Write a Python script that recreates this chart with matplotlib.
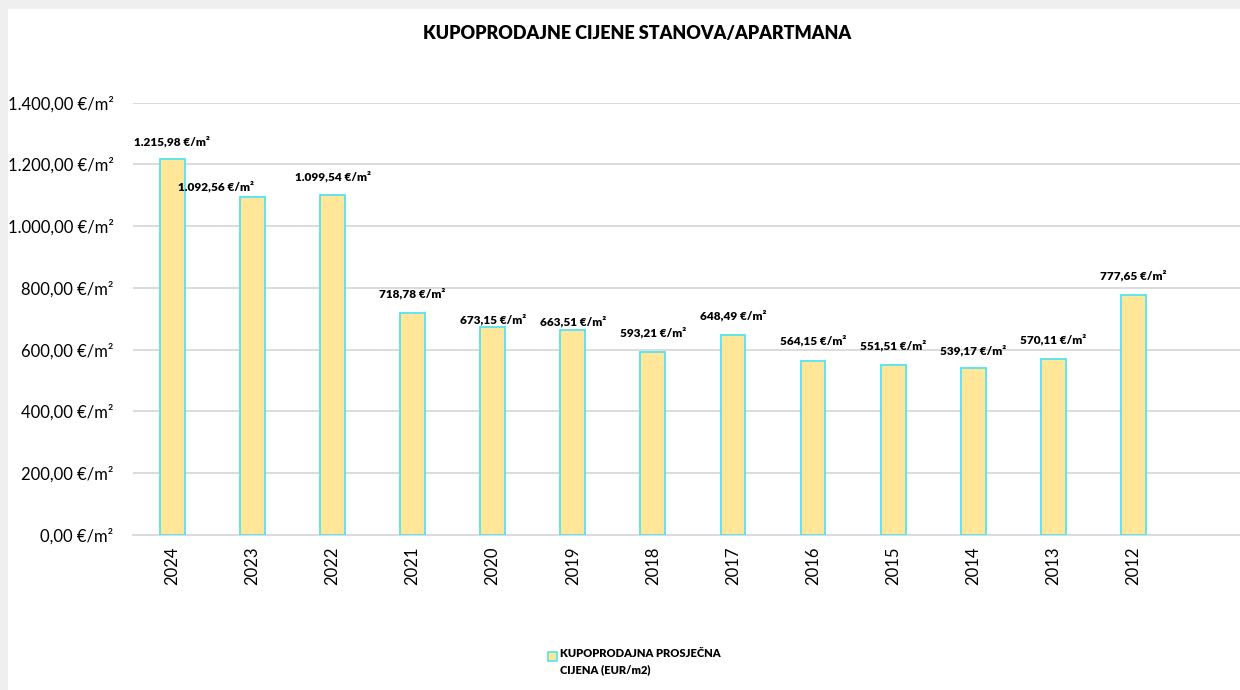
import matplotlib
matplotlib.use("Agg")
import matplotlib.pyplot as plt
from matplotlib.patches import Rectangle
from matplotlib.ticker import FuncFormatter

years = ["2024", "2023", "2022", "2021", "2020", "2019", "2018", "2017",
         "2016", "2015", "2014", "2013", "2012"]
prices = [1215.98, 1092.56, 1099.54, 718.78, 673.15, 663.51, 593.21, 648.49,
          564.15, 551.51, 539.17, 570.11, 777.65]
title = "KUPOPRODAJNE CIJENE STANOVA/APARTMANA"
legend_label = "KUPOPRODAJNA PROSJEČNA\nCIJENA (EUR/m2)"

# label offsets (pixels) mimicking Excel placement
label_dx = [0, -36, 0, 0, 0, 0, 0, 0, 0, 0, 0, 0, 0]
label_dy = [18, 11, 19, 19, 7, 8, 19, 19, 20, 19, 18, 19, 19]

def fmt_eur(v):
    s = f"{v:,.2f}"
    return s.replace(",", "X").replace(".", ",").replace("X", ".")

plt.rcParams['font.family'] = ['Lato', 'DejaVu Sans']

fig = plt.figure(figsize=(12.4, 6.9), dpi=100)
fig.patch.set_facecolor("white")
# screenshot frame
fig.patches.append(Rectangle((0, 1 - 9/690), 1, 9/690, transform=fig.transFigure,
                             facecolor="#efefef", edgecolor="none", zorder=0))
fig.patches.append(Rectangle((0, 0), 8/1240, 1, transform=fig.transFigure,
                             facecolor="#efefef", edgecolor="none", zorder=0))

ax = fig.add_axes([133/1240, 1 - 535/690, 1 - 133/1240, (535 - 102.5)/690])
x = list(range(len(years)))
ax.bar(x, prices, width=0.31, color="#FFE699", edgecolor="#55E3EE", linewidth=1.3, zorder=3)
ax.set_xlim(-0.49, 13.33)
ax.set_ylim(0, 1400)
ax.set_yticks(range(0, 1401, 200))
ax.yaxis.set_major_formatter(FuncFormatter(lambda v, p: f"{fmt_eur(v)} €/m²"))
ax.set_xticks(x)
ax.set_xticklabels(years, rotation=90)
ax.tick_params(axis='both', length=0, labelsize=12, colors="#000000")
ax.tick_params(axis='y', pad=14)
ax.tick_params(axis='x', pad=8)
ax.grid(axis='y', color="#d9d9d9", linewidth=1.3, zorder=0)
ax.set_axisbelow(True)
for s in ["top", "right", "left"]:
    ax.spines[s].set_visible(False)
ax.spines["bottom"].set_color("#d9d9d9")
ax.spines["bottom"].set_linewidth(1.3)

for xi, v, dx, dy in zip(x, prices, label_dx, label_dy):
    ax.annotate(f"{fmt_eur(v)} €/m²", (xi, v), xytext=(dx, dy), textcoords="offset pixels",
                ha="center", va="center", fontsize=8.5, fontweight="heavy", color="#000000")

fig.text(637/1240, 1 - 33/690, title, ha="center", va="center",
         fontsize=13, fontweight="heavy", color="#000000")

# legend
fig.patches.append(Rectangle((548/1240, 1 - 661/690), 9/1240, 9/690, transform=fig.transFigure,
                             facecolor="#FFE699", edgecolor="#55E3EE", linewidth=1.2))
fig.text(560/1240, 1 - 648/690, legend_label, ha="left", va="top",
         fontsize=8, fontweight="heavy", color="#000000", linespacing=1.6)

fig.savefig("out.png", dpi=100)
